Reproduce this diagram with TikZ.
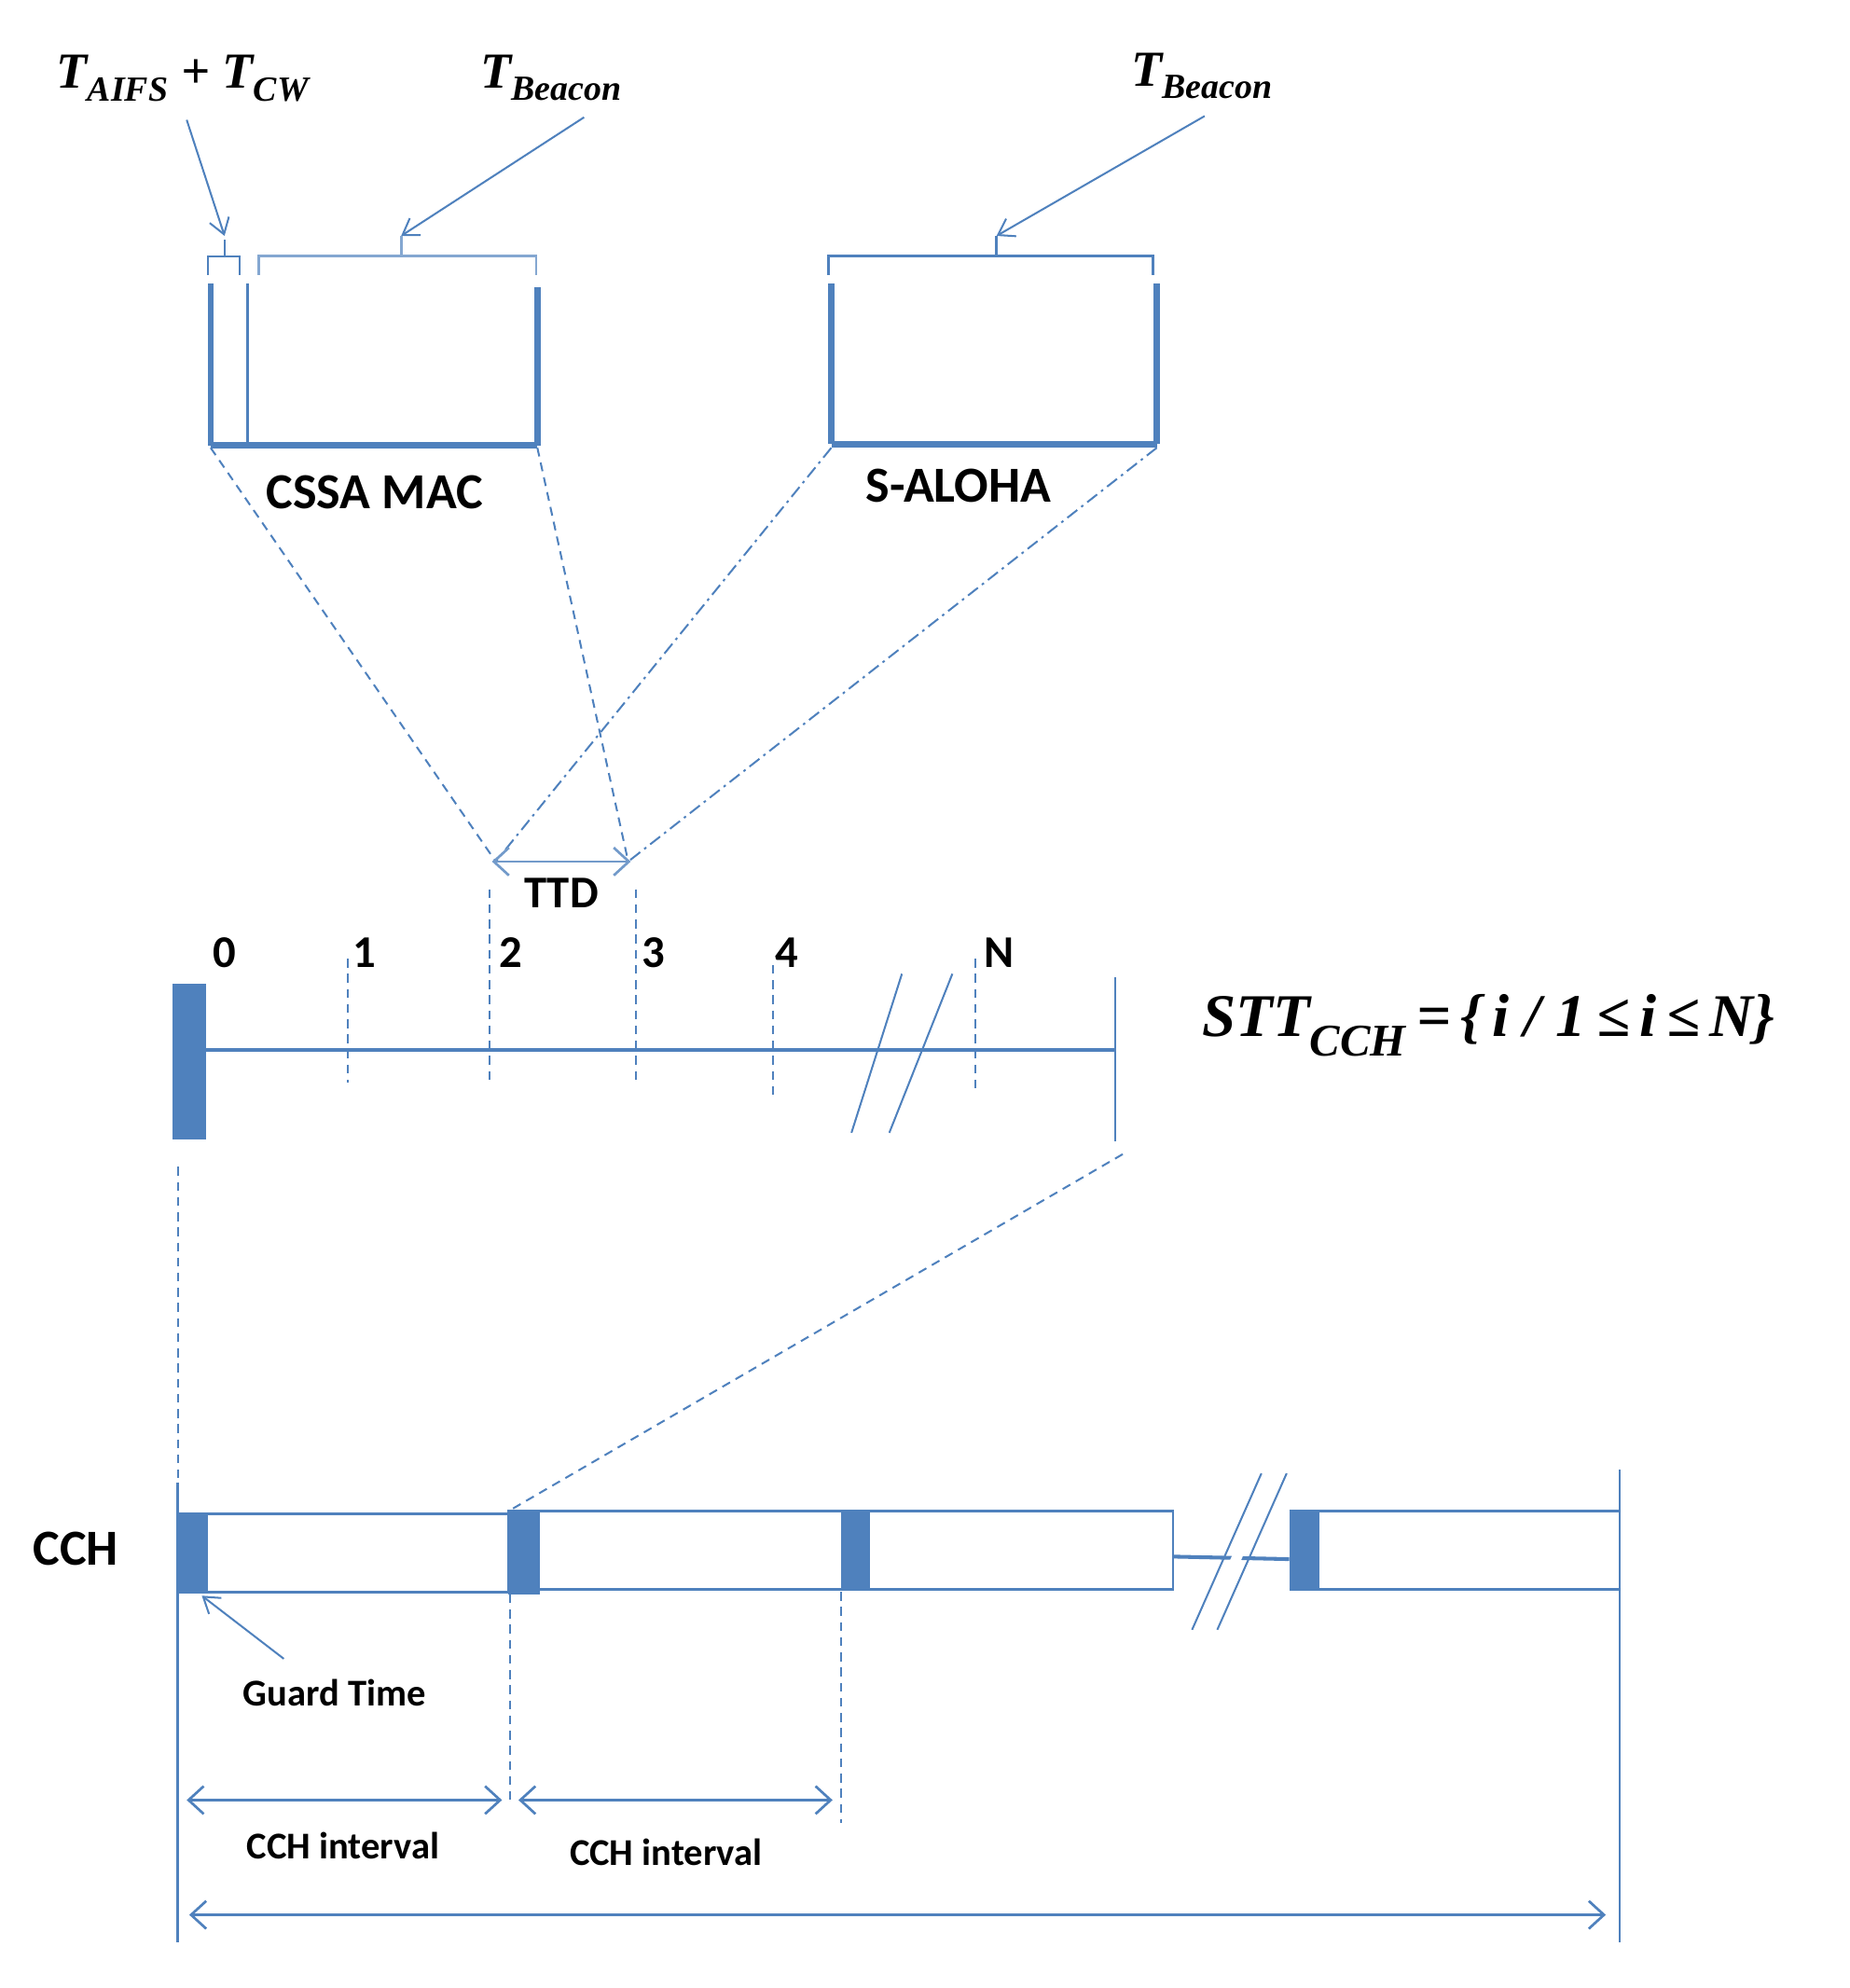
\documentclass[tikz,border=0pt]{standalone}
\usepackage{fontspec}
\setmainfont{Carlito}
\newfontfamily\mathser{Liberation Serif}
\usetikzlibrary{arrows.meta}
\definecolor{bl}{RGB}{79,129,189}
\begin{document}
\begin{tikzpicture}[x=1pt,y=-1pt,
  ln/.style={draw=bl,line width=2pt},
  thk/.style={draw=bl,line width=5pt},
  dsh/.style={draw=bl,line width=1.5pt,dash pattern=on 7pt off 5pt},
  dd/.style={draw=bl,line width=1.5pt,dash pattern=on 10pt off 4pt on 2pt off 4pt},
  ar/.style={draw=bl,line width=1.5pt,-{Straight Barb[length=12pt,width=16pt]}},
  dar/.style={draw=bl,line width=2pt,{Straight Barb[length=12pt,width=22pt]}-{Straight Barb[length=12pt,width=22pt]}},
  lab/.style={font=\bfseries\fontsize{40}{42}\selectfont},
  slab/.style={font=\bfseries\fontsize{30}{32}\selectfont},
  nlab/.style={font=\bfseries\fontsize{36}{38}\selectfont},
  mth/.style={font=\mathser\bfseries\itshape\fontsize{40}{42}\selectfont},
  fill box/.style={fill=bl,draw=none}]
\useasboundingbox (0,0) rectangle (1466,1576);
% top labels
\node[mth] (ta) at (145,62) {T\textsubscript{\fontsize{28}{30}\selectfont AIFS} + T\textsubscript{\fontsize{28}{30}\selectfont CW}};
\node[mth] (tb1) at (437,62) {T\textsubscript{\fontsize{28}{30}\selectfont Beacon}};
\node[mth] (tb2) at (953,60) {T\textsubscript{\fontsize{28}{30}\selectfont Beacon}};
\coordinate (a1) at (148,95); \coordinate (a1e) at (178,187);
\coordinate (b1) at (463,93); \coordinate (b1e) at (318,187);
\coordinate (c1) at (955,92); \coordinate (c1e) at (790,187);
\draw[ar] (a1) -- (a1e);
\draw[ar] (b1) -- (b1e);
\draw[ar] (c1) -- (c1e);
% brackets
\draw[ln,line width=1.5pt] (165,218) -- (165,203) -- (190,203) -- (190,218);
\draw[ln,line width=1.5pt] (178,203) -- (178,190);
\draw[ln,draw=bl!70] (205,218) -- (205,203) -- (425,203) -- (425,218);
\draw[ln,draw=bl!70] (318,203) -- (318,187);
\draw[ln] (657,218) -- (657,203) -- (914,203) -- (914,218);
\draw[ln] (790,203) -- (790,187);
% boxes
\draw[thk] (167,225) -- (167,353);
\draw[ln] (196,225) -- (196,353);
\draw[thk] (426,228) -- (426,353);
\draw[thk] (167,353) -- (426,353);
\draw[thk] (659,225) -- (659,352);
\draw[thk] (917,225) -- (917,352);
\draw[thk] (659,352) -- (917,352);
\node[lab] (cssa) at (297,390) {CSSA MAC};
\node[lab] (salo) at (760,385) {S-ALOHA};
% funnel lines
\coordinate (t2) at (393,683); \coordinate (t3) at (498,683);
\draw[dsh] (167,355) -- (t2);
\draw[dsh] (426,355) -- (t3);
\draw[dd] (659,355) -- (t2);
\draw[dd] (917,355) -- (t3);
\draw[dar,draw=bl!80] (390,683) -- (500,683);
\node[nlab] (ttd) at (445,708) {TTD};
% timeline
\draw[fill box] (137,780) rectangle (163,903);
\draw[ln,line width=3pt] (163,832) -- (884,832);
\draw[ln] (884,775) -- (884,905);
\foreach \x/\a/\b in {276/760/858, 388/705/860, 504/705/860, 613/765/868, 773/760/866}
  \draw[dsh] (\x,\a) -- (\x,\b);
\draw[ln,line width=1.5pt] (675,898) -- (715,772);
\draw[ln,line width=1.5pt] (705,898) -- (755,772);
\foreach \t/\x in {0/178,1/289,2/405,3/518,4/624,N/792}
  \node[nlab] (n\t) at (\x,755) {\t};
\node[mth,font=\mathser\bfseries\itshape\fontsize{48}{50}\selectfont] (stt) at (1180,813) {STT\textsubscript{\fontsize{36}{38}\selectfont CCH}\,=\,\{\,i / 1\,≤\,i\,≤\,N\}};
% zoom lines to CCH
\draw[dsh] (141,925) -- (141,1180);
\draw[dsh] (890,915) -- (403,1198);
% CCH row
\node[lab] (cch) at (60,1228) {CCH};
\draw[ln] (141,1200) rectangle (403,1262);
\draw[fill box] (141,1200) rectangle (165,1262);
\draw[ln] (403,1198) rectangle (668,1260);
\draw[fill box] (403,1198) rectangle (428,1264);
\draw[ln] (668,1198) rectangle (930,1260);
\draw[fill box] (668,1198) rectangle (690,1260);
\draw[ln,line width=3pt] (930,1234) -- (1022,1236);
\draw[ln] (1022,1198) -- (1284,1198);
\draw[ln] (1022,1260) -- (1284,1260);
\draw[fill box] (1022,1198) rectangle (1046,1260);
\draw[draw=white,line width=8pt] (955,1292) -- (1010,1168);
\draw[ln,line width=1.5pt] (945,1292) -- (1000,1168);
\draw[ln,line width=1.5pt] (965,1292) -- (1020,1168);
\draw[ln] (141,1175) -- (141,1540);
\draw[ln] (1284,1165) -- (1284,1540);
\draw[dsh] (404,1264) -- (404,1430);
\draw[dsh] (667,1262) -- (667,1445);
% guard time
\coordinate (g1) at (225,1315); \coordinate (g2) at (160,1265);
\draw[ar] (g1) -- (g2);
\node[slab] (gt) at (265,1342) {Guard Time};
\draw[dar] (148,1427) -- (398,1427);
\draw[dar] (411,1427) -- (660,1427);
\node[slab] (ci1) at (272,1463) {CCH interval};
\node[slab] (ci2) at (528,1468) {CCH interval};
\draw[dar] (150,1518) -- (1273,1518);
\end{tikzpicture}
\end{document}
